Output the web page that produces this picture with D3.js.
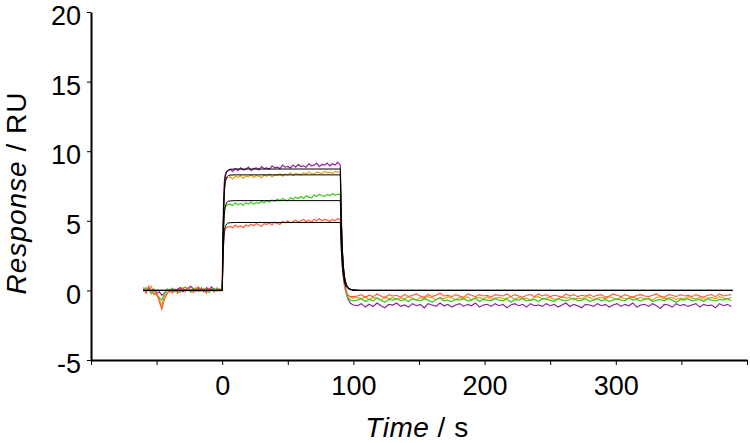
<!DOCTYPE html>
<html>
<head>
<meta charset="utf-8">
<script src="https://cdn.jsdelivr.net/npm/d3@7"></script>
<style>
  body{margin:0;background:#fff;}
  text{font-family:"Liberation Sans",Arial,sans-serif;fill:#000;}
</style>
</head>
<body>
<div class="chart"></div>
<script>
// sampling times (s)
var preTimes = d3.range(-60, 0, 2);
var assocTimes = [0, 0.5, 1, 1.5, 2, 3, 4].concat(d3.range(6, 90, 2));
var dissTimes = [90, 90.5, 91, 91.5, 92, 93, 94, 95, 96, 98, 100].concat(d3.range(103, 389, 3));

var purplePre = [0.1,-0.15,0.2,-0.05,0.05,-0.2,-0.1,-0.35,-0.2,0.05,-0.1,0.15,-0.05,0.1,0.2,-0.1,0.05,0.15,0.3,0.1,-0.05,0.15,0.1,-0.1,0.2,0.05,0.25,-0.05,0.1,0.0];
var orangePre = [0.25,-0.1,0.15,0.3,-0.2,-0.35,-0.6,-1.1,-0.4,-0.15,0.1,-0.2,0.05,-0.1,0.1,0.2,-0.05,0.1,-0.15,0.05,0.2,-0.1,0.0,0.15,-0.1,0.05,0.1,-0.05,0.2,0.05];
var greenPre = [-0.1,0.2,0.05,-0.25,0.1,-0.3,-0.5,-0.7,-0.2,0.1,-0.05,0.15,-0.1,0.05,-0.15,0.1,0.25,0.0,-0.1,0.15,0.05,-0.05,0.2,0.0,0.1,-0.15,0.05,0.15,-0.05,0.1];
var redPre = [0.15,-0.2,0.3,-0.05,-0.3,-0.1,-0.8,-1.35,-0.6,-0.25,0.05,-0.15,0.1,-0.2,0.0,0.15,-0.1,0.2,0.05,-0.15,0.1,0.25,-0.05,0.1,-0.2,0.15,0.0,-0.1,0.1,-0.05];

var purpleAssoc = [0.1,3.6,6.2,7.6,8.2,8.5,8.55,
  8.7,8.55,8.75,8.6,8.8,8.65,8.7,8.85,8.6,8.75,8.8,8.65,8.9,8.75,8.8,8.7,8.95,8.8,8.85,8.75,9.0,
  8.85,8.9,8.8,9.0,8.85,9.05,8.9,8.95,8.85,9.1,8.95,9.0,9.15,8.9,9.05,9.0,9.15,8.95,9.1,9.0,9.2];
var orangeAssoc = [0.0,2.4,5.2,6.9,7.7,8.05,8.1,
  8.15,8.0,8.2,8.1,8.25,8.05,8.2,8.15,8.3,8.1,8.25,8.2,8.1,8.3,8.2,8.35,8.15,8.3,8.25,8.4,8.2,
  8.35,8.3,8.45,8.25,8.4,8.35,8.3,8.45,8.35,8.5,8.4,8.35,8.5,8.45,8.4,8.55,8.45,8.5,8.4,8.55,8.5];
var greenAssoc = [0.05,2.6,4.5,5.5,5.9,6.1,6.15,
  6.2,6.1,6.3,6.15,6.25,6.1,6.3,6.2,6.35,6.2,6.3,6.25,6.4,6.3,6.45,6.35,6.5,6.4,6.55,6.45,6.6,
  6.5,6.45,6.65,6.55,6.7,6.6,6.75,6.6,6.8,6.7,6.65,6.85,6.75,6.9,6.8,6.75,6.9,6.8,6.95,6.85,6.9];
var redAssoc = [0.0,1.9,3.4,4.1,4.35,4.5,4.55,
  4.6,4.5,4.7,4.55,4.65,4.5,4.7,4.6,4.75,4.65,4.8,4.7,4.6,4.8,4.75,4.85,4.7,4.9,4.8,4.75,4.95,
  4.85,5.0,4.85,4.95,5.05,4.9,5.0,5.1,4.95,5.05,4.9,5.1,5.0,5.15,5.0,5.1,5.05,4.95,5.1,5.0,5.15];

var purpleDiss = [9.0,6.6,4.6,3.1,2.0,0.8,0.1,-0.35,-0.65,-0.95,-1.05,
  -1.1,-0.95,-1.2,-1.0,-1.15,-0.9,-1.1,-1.25,-1.0,-1.05,-0.9,-1.15,
  -1.05,-1.2,-0.95,-1.1,-1.0,-1.25,-0.95,-1.05,-1.15,-0.9,-1.1,-1.0,
  -1.2,-1.05,-0.95,-1.15,-1.0,-1.1,-0.9,-1.2,-1.05,-1.0,-1.15,-0.95,
  -1.1,-1.0,-1.25,-1.05,-0.95,-1.1,-1.0,-1.2,-0.95,-1.1,-1.05,-1.15,
  -0.95,-1.1,-1.0,-1.2,-1.05,-0.9,-1.15,-1.0,-1.1,-1.25,-1.0,-1.05,
  -1.15,-0.95,-1.1,-1.0,-1.2,-1.05,-0.95,-1.15,-1.0,-1.1,-0.9,-1.2,
  -1.05,-1.0,-1.15,-0.95,-1.1,-1.3,-1.0,-1.05,-1.2,-0.95,-1.1,-1.0,
  -1.15,-1.05,-0.95,-1.2,-1.0,-1.1,-1.05,-1.25,-0.95,-1.1,-1.0,-1.15];
var orangeDiss = [8.5,6.2,4.3,2.9,1.9,0.8,0.2,-0.15,-0.35,-0.5,-0.55,
  -0.5,-0.6,-0.45,-0.65,-0.5,-0.55,-0.7,-0.45,-0.6,-0.5,-0.65,-0.55,
  -0.6,-0.45,-0.55,-0.7,-0.5,-0.6,-0.45,-0.55,-0.65,-0.5,-0.6,-0.45,
  -0.55,-0.65,-0.5,-0.6,-0.45,-0.7,-0.55,-0.5,-0.6,-0.45,-0.65,-0.55,
  -0.5,-0.6,-0.55,-0.45,-0.65,-0.5,-0.6,-0.55,-0.7,-0.5,-0.45,-0.6,
  -0.55,-0.5,-0.65,-0.6,-0.45,-0.55,-0.5,-0.7,-0.55,-0.6,-0.45,-0.5,
  -0.65,-0.55,-0.5,-0.6,-0.45,-0.55,-0.65,-0.5,-0.6,-0.55,-0.45,-0.6,
  -0.5,-0.6,-0.55,-0.7,-0.5,-0.45,-0.6,-0.55,-0.5,-0.65,-0.55,-0.6,
  -0.45,-0.55,-0.6,-0.5,-0.65,-0.55,-0.5,-0.6,-0.45,-0.55,-0.6,-0.5];
var greenDiss = [6.9,5.0,3.5,2.4,1.6,0.6,0.0,-0.35,-0.55,-0.7,-0.75,
  -0.7,-0.6,-0.8,-0.65,-0.75,-0.55,-0.7,-0.85,-0.65,-0.7,-0.6,-0.75,
  -0.65,-0.8,-0.6,-0.7,-0.75,-0.6,-0.7,-0.85,-0.65,-0.55,-0.75,-0.7,
  -0.8,-0.65,-0.7,-0.6,-0.75,-0.7,-0.55,-0.8,-0.65,-0.7,-0.75,-0.6,
  -0.7,-0.75,-0.6,-0.85,-0.65,-0.7,-0.6,-0.75,-0.7,-0.65,-0.8,-0.6,
  -0.65,-0.7,-0.8,-0.6,-0.7,-0.75,-0.65,-0.55,-0.75,-0.7,-0.6,-0.8,
  -0.7,-0.6,-0.75,-0.65,-0.8,-0.7,-0.6,-0.7,-0.75,-0.55,-0.7,-0.65,
  -0.75,-0.65,-0.6,-0.8,-0.7,-0.65,-0.75,-0.6,-0.7,-0.85,-0.65,-0.7,
  -0.6,-0.75,-0.7,-0.65,-0.8,-0.6,-0.7,-0.75,-0.65,-0.7,-0.6,-0.75];
var redDiss = [5.1,3.7,2.6,1.8,1.2,0.4,0.0,-0.25,-0.35,-0.45,-0.45,
  -0.4,-0.3,-0.5,-0.35,-0.45,-0.25,-0.4,-0.55,-0.3,-0.4,-0.35,-0.5,
  -0.3,-0.45,-0.35,-0.25,-0.4,-0.5,-0.3,-0.45,-0.35,-0.2,-0.4,-0.35,
  -0.45,-0.3,-0.4,-0.5,-0.25,-0.35,-0.45,-0.3,-0.4,-0.35,-0.5,-0.3,
  -0.35,-0.4,-0.25,-0.45,-0.3,-0.4,-0.5,-0.35,-0.3,-0.45,-0.25,-0.4,
  -0.3,-0.45,-0.35,-0.4,-0.5,-0.25,-0.4,-0.3,-0.45,-0.35,-0.4,-0.3,
  -0.45,-0.35,-0.3,-0.5,-0.4,-0.25,-0.35,-0.45,-0.3,-0.4,-0.5,-0.35,
  -0.3,-0.4,-0.45,-0.35,-0.25,-0.4,-0.5,-0.3,-0.35,-0.45,-0.3,-0.4,
  -0.35,-0.45,-0.3,-0.4,-0.5,-0.35,-0.3,-0.45,-0.25,-0.4,-0.35,-0.3];

// fitted curves (black)
var fitTimes = [-60,0,0.5,1,1.5,2,3,4,6,10,90,90.5,91,91.5,92,93,94,96,98,100,105,389];
var purpleFit = [0,0,3.4,5.6,7.0,7.8,8.4,8.6,8.7,8.72,8.72,6.3,4.5,3.2,2.3,1.2,0.65,0.22,0.08,0.03,0,0];
var orangeFit = [0,0,3.2,5.3,6.7,7.45,8.0,8.2,8.28,8.3,8.3,6.0,4.3,3.05,2.2,1.15,0.62,0.21,0.08,0.03,0,0];
var greenFit = [0,0,2.5,4.15,5.2,5.8,6.2,6.37,6.43,6.45,6.45,4.67,3.35,2.37,1.7,0.9,0.48,0.16,0.06,0.02,0,0];
var redFit = [0,0,1.9,3.15,3.95,4.4,4.7,4.82,4.86,4.88,4.88,3.53,2.52,1.8,1.29,0.67,0.37,0.12,0.05,0.02,0,0];

var xTicks = d3.range(-100, 401, 50);
var xLabels = [0, 100, 200, 300];
var yTicks = [-5, 0, 5, 10, 15, 20];

var width = 750, height = 443;
var svg = d3.select('div.chart').append('svg')
    .attr('width', width)
    .attr('height', height);

var x = d3.scaleLinear().domain([-100, 400]).range([91, 747]);
var y = d3.scaleLinear().domain([-5, 20]).range([360, 12]);

var times = preTimes.concat(assocTimes, dissTimes);
function zip(ts, vs){
  return ts.map(function(t, i){ return [t, vs[i]]; });
}
var traces = [
  {color:'#e0a21c', v: orangePre.concat(orangeAssoc, orangeDiss)},
  {color:'#8b1f9b', v: purplePre.concat(purpleAssoc, purpleDiss)},
  {color:'#3cc81e', v: greenPre.concat(greenAssoc, greenDiss)},
  {color:'#ff5a3a', v: redPre.concat(redAssoc, redDiss)}
];
var fits = [purpleFit, orangeFit, greenFit, redFit];

var line = d3.line()
    .x(function(d){ return x(d[0]); })
    .y(function(d){ return y(d[1]); });
var fitLine = d3.line()
    .x(function(d){ return x(d[0]); })
    .y(function(d){ return y(d[1]); })
    .curve(d3.curveMonotoneX);

svg.append('g').selectAll('path.trace')
    .data(traces)
    .enter()
    .append('path')
    .attr('class', 'trace')
    .attr('fill', 'none')
    .attr('stroke', function(d){ return d.color; })
    .attr('stroke-width', 1.2)
    .attr('d', function(d){ return line(zip(times, d.v)); });

svg.append('g').selectAll('path.fit')
    .data(fits)
    .enter()
    .append('path')
    .attr('class', 'fit')
    .attr('fill', 'none')
    .attr('stroke', '#000')
    .attr('stroke-width', 1)
    .attr('d', function(d){ return fitLine(zip(fitTimes, d)); });

// axes
var xAxis = d3.axisBottom(x)
    .tickValues(xTicks)
    .tickSize(5)
    .tickSizeOuter(0)
    .tickPadding(11)
    .tickFormat(function(d){ return xLabels.indexOf(d) >= 0 ? String(d) : ''; });
var gx = svg.append('g')
    .attr('transform', 'translate(0,' + 360 + ')')
    .call(xAxis);

var yAxis = d3.axisLeft(y)
    .tickValues(yTicks)
    .tickSize(4)
    .tickSizeOuter(0)
    .tickPadding(6)
    .tickFormat(function(d){ return String(d); });
var gy = svg.append('g')
    .attr('transform', 'translate(' + 91 + ',0)')
    .call(yAxis);

[gx, gy].forEach(function(g){
  g.select('.domain').attr('stroke', '#000').attr('stroke-width', 2);
  g.selectAll('.tick line').attr('stroke', '#000').attr('stroke-width', 1);
  g.selectAll('.tick text')
    .style('font-family', '"Liberation Sans", Arial, sans-serif')
    .style('font-size', '27px')
    .attr('fill', '#000');
});
gy.selectAll('.tick text').attr('dy', '0.47em');

// axis titles
var xt = svg.append('text')
    .attr('x', 417)
    .attr('y', 437)
    .attr('text-anchor', 'middle')
    .style('font-size', '28px')
    .style('letter-spacing', '0.5px');
xt.append('tspan').style('font-style', 'italic').text('Time');
xt.append('tspan').text(' / s');

var yt = svg.append('text')
    .attr('transform', 'translate(26,193) rotate(-90)')
    .attr('text-anchor', 'middle')
    .style('font-size', '28px')
    .style('letter-spacing', '1px');
yt.append('tspan').style('font-style', 'italic').text('Response');
yt.append('tspan').text(' / RU');
</script>
</body>
</html>
